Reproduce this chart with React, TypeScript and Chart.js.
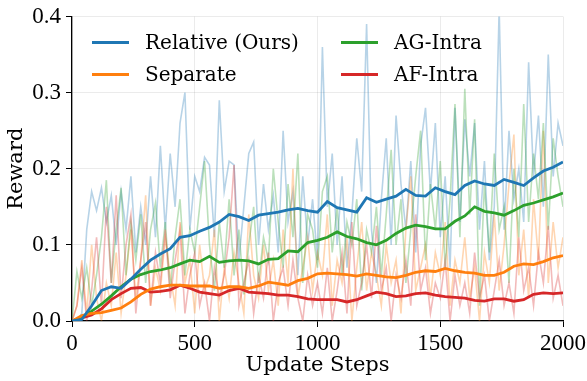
import React, { useEffect, useRef } from "react";
import { Chart, registerables } from "chart.js";

Chart.register(...registerables);

const STEP_RAW = 20;
const STEP_SMOOTH = 40;

const seriesLabels = ["Relative (Ours)", "Separate", "AG-Intra", "AF-Intra"];
const seriesColors = ["#1f77b4", "#ff7f0e", "#2ca02c", "#d62728"];
const xTicks = [0, 500, 1000, 1500, 2000];
const yTicks = [0, 0.1, 0.2, 0.3, 0.4];

// raw (unsmoothed) rewards, one value every 20 steps from 0 to 2000
const relativeRaw = [
  0, 0, 0.01, 0.12, 0.17, 0.145, 0.175, 0.13, 0.165, 0.10,
  0.17, 0.12, 0.19, 0.09, 0.15, 0.10, 0.19, 0.11, 0.23, 0.12,
  0.22, 0.15, 0.26, 0.30, 0.12, 0.19, 0.17, 0.215, 0.205, 0.11,
  0.29, 0.17, 0.21, 0.205, 0.08, 0.15, 0.22, 0.235, 0.10, 0.18,
  0.12, 0.165, 0.09, 0.25, 0.13, 0.17, 0.06, 0.19, 0.10, 0.16,
  0.08, 0.36, 0.15, 0.22, 0.10, 0.19, 0.07, 0.14, 0.24, 0.17,
  0.39, 0.12, 0.05, 0.16, 0.24, 0.10, 0.27, 0.18, 0.12, 0.21,
  0.09, 0.23, 0.28, 0.17, 0.26, 0.11, 0.19, 0.07, 0.28, 0.13,
  0.265, 0.19, 0.26, 0.12, 0.21, 0.08, 0.15, 0.41, 0.12, 0.25,
  0.16, 0.20, 0.13, 0.34, 0.19, 0.27, 0.15, 0.35, 0.19, 0.26,
  0.23,
];
const separateRaw = [
  0, 0.02, 0.08, 0.01, 0.10, 0.03, 0.00, 0.05, 0.02, 0.09,
  0.01, 0.06, 0.12, 0.03, 0.08, 0.165, 0.02, 0.07, 0.04, 0.11,
  0.06, 0.02, 0.13, 0.05, 0.08, 0.01, 0.10, 0.04, 0.06, 0.12,
  0.00, 0.07, 0.03, 0.09, 0.05, 0.01, 0.14, 0.06, 0.03, 0.10,
  0.04, 0.08, 0.02, 0.12, 0.05, 0.20, 0.03, 0.07, 0.11, 0.04,
  0.09, 0.06, 0.14, 0.02, 0.08, 0.05, 0.11, 0.00, 0.07, 0.13,
  0.04, 0.09, 0.06, 0.02, 0.10, 0.05, 0.08, 0.01, 0.12, 0.19,
  0.04, 0.07, 0.10, 0.03, 0.09, 0.06, 0.13, 0.02, 0.08, 0.05,
  0.11, 0.03, 0.07, 0.00, 0.09, 0.05, 0.14, 0.04, 0.10, 0.18,
  0.245, 0.06, 0.12, 0.03, 0.16, 0.08, 0.25, 0.05, 0.13, 0.07,
  0.11,
];
const agIntraRaw = [
  0, 0.065, 0.03, 0.07, 0.02, 0.06, 0.11, 0.185, 0.05, 0.12,
  0.175, 0.06, 0.13, 0.08, 0.14, 0.05, 0.12, 0.155, 0.07, 0.13,
  0.04, 0.11, 0.16, 0.06, 0.12, 0.09, 0.15, 0.21, 0.10, 0.04,
  0.13, 0.07, 0.16, 0.06, 0.12, 0.035, 0.10, 0.15, 0.05, 0.11,
  0.08, 0.20, 0.13, 0.07, 0.18, 0.11, 0.22, 0.05, 0.14, 0.12,
  0.07, 0.17, 0.19, 0.09, 0.15, 0.06, 0.13, 0.10, 0.16, 0.04,
  0.12, 0.09, 0.15, 0.06, 0.14, 0.225, 0.10, 0.16, 0.05, 0.12,
  0.19, 0.25, 0.08, 0.18, 0.12, 0.21, 0.07, 0.16, 0.285, 0.11,
  0.305, 0.14, 0.265, 0.02, 0.18, 0.09, 0.22, 0.12, 0.15, 0.05,
  0.20, 0.11, 0.285, 0.13, 0.22, 0.16, 0.26, 0.12, 0.24, 0.19,
  0.15,
];
const afIntraRaw = [
  0, 0.02, 0.07, 0.00, 0.04, 0.11, 0.02, 0.15, 0.05, 0.165,
  0.03, 0.10, 0.14, 0.01, 0.08, 0.13, 0.02, 0.09, 0.05, 0.12,
  0.03, 0.08, 0.12, 0.01, 0.06, 0.09, 0.02, 0.05, 0.00, 0.07,
  0.03, 0.06, 0.11, 0.205, 0.02, 0.05, 0.08, 0.01, 0.06, 0.03,
  0.09, 0.00, 0.05, 0.07, 0.02, 0.08, 0.03, 0.00, 0.06, 0.02,
  0.05, 0.01, 0.07, 0.00, 0.04, 0.09, 0.01, 0.13, 0.02, 0.05,
  0.10, 0.03, 0.125, 0.04, 0.07, 0.00, 0.06, 0.03, 0.08, 0.02,
  0.14, 0.04, 0.07, 0.01, 0.05, 0.03, 0.08, 0.00, 0.06, 0.02,
  0.05, 0.01, 0.09, 0.03, 0.06, 0.00, 0.04, 0.08, 0.02, 0.05,
  0.01, 0.11, 0.04, 0.07, 0.02, 0.09, 0.05, 0.125, 0.03, 0.06,
  0.02,
];

// smoothed rewards, one value every 40 steps from 0 to 2000
const relativeSmooth = [
  0, 0.002, 0.020, 0.040, 0.045, 0.043, 0.055, 0.068, 0.080, 0.088,
  0.095, 0.110, 0.112, 0.118, 0.123, 0.130, 0.140, 0.137, 0.132, 0.139,
  0.141, 0.143, 0.146, 0.148, 0.145, 0.143, 0.157, 0.149, 0.146, 0.143,
  0.162, 0.156, 0.160, 0.164, 0.173, 0.165, 0.164, 0.175, 0.170, 0.166,
  0.178, 0.184, 0.180, 0.178, 0.186, 0.182, 0.178, 0.188, 0.197, 0.202,
  0.209,
];
const separateSmooth = [
  0, 0.007, 0.010, 0.011, 0.014, 0.017, 0.025, 0.035, 0.042, 0.045,
  0.047, 0.047, 0.046, 0.046, 0.046, 0.043, 0.045, 0.045, 0.043, 0.046,
  0.051, 0.049, 0.047, 0.053, 0.056, 0.062, 0.063, 0.062, 0.061, 0.059,
  0.062, 0.060, 0.058, 0.057, 0.060, 0.064, 0.066, 0.065, 0.069, 0.066,
  0.064, 0.063, 0.060, 0.060, 0.064, 0.072, 0.075, 0.074, 0.078, 0.083,
  0.086,
];
const agIntraSmooth = [
  0, 0.005, 0.013, 0.022, 0.033, 0.045, 0.055, 0.061, 0.065, 0.067,
  0.070, 0.075, 0.080, 0.078, 0.085, 0.077, 0.079, 0.080, 0.079, 0.075,
  0.081, 0.082, 0.092, 0.091, 0.103, 0.106, 0.110, 0.117, 0.111, 0.108,
  0.103, 0.100, 0.106, 0.115, 0.122, 0.126, 0.124, 0.121, 0.121, 0.131,
  0.138, 0.150, 0.144, 0.142, 0.139, 0.145, 0.152, 0.155, 0.159, 0.163,
  0.168,
];
const afIntraSmooth = [
  0, 0.004, 0.008, 0.016, 0.028, 0.036, 0.043, 0.044, 0.038, 0.039,
  0.041, 0.047, 0.043, 0.038, 0.036, 0.034, 0.040, 0.043, 0.038, 0.037,
  0.036, 0.034, 0.034, 0.032, 0.029, 0.028, 0.028, 0.028, 0.025, 0.028,
  0.033, 0.038, 0.036, 0.032, 0.033, 0.036, 0.037, 0.034, 0.032, 0.031,
  0.030, 0.027, 0.026, 0.029, 0.029, 0.026, 0.028, 0.035, 0.037, 0.036,
  0.037,
];

const rawSeries = [relativeRaw, separateRaw, agIntraRaw, afIntraRaw];
const smoothSeries = [relativeSmooth, separateSmooth, agIntraSmooth, afIntraSmooth];

const TEXT_FONT = "'DejaVu Serif', serif";
const TICK_FONT = "'Liberation Serif', serif";

function toPoints(values: number[], step: number) {
  return values.map((v, i) => ({ x: i * step, y: v }));
}

function hexToRgba(hex: string, a: number) {
  const r = parseInt(hex.slice(1, 3), 16);
  const g = parseInt(hex.slice(3, 5), 16);
  const b = parseInt(hex.slice(5, 7), 16);
  return `rgba(${r},${g},${b},${a})`;
}

const legendPlugin = {
  id: "insideLegend",
  afterDatasetsDraw(chart: any) {
    const { ctx, chartArea } = chart;
    ctx.save();
    ctx.font = `20px ${TEXT_FONT}`;
    ctx.textBaseline = "middle";
    ctx.fillStyle = "#000";
    const colX = [chartArea.left + 20, chartArea.left + 269];
    const rowY = [chartArea.top + 26, chartArea.top + 58];
    for (let k = 0; k < 4; k++) {
      const col = k < 2 ? 0 : 1;
      const row = k % 2;
      const x = colX[col];
      const y = rowY[row];
      ctx.strokeStyle = seriesColors[k];
      ctx.lineWidth = 3;
      ctx.beginPath();
      ctx.moveTo(x, y);
      ctx.lineTo(x + 37, y);
      ctx.stroke();
      ctx.fillText(seriesLabels[k], x + 53, y + 1);
    }
    ctx.restore();
  },
};

export default function App() {
  const canvasRef = useRef<HTMLCanvasElement | null>(null);

  useEffect(() => {
    document.body.style.margin = "0";
    const canvas = canvasRef.current!;
    const datasets: any[] = [];
    rawSeries.forEach((vals, i) => {
      datasets.push({
        label: seriesLabels[i] + " raw",
        data: toPoints(vals, STEP_RAW),
        borderColor: hexToRgba(seriesColors[i], 0.32),
        borderWidth: 1.6,
        pointRadius: 0,
        tension: 0,
        order: 2 + (3 - i),
      });
    });
    smoothSeries.forEach((vals, i) => {
      datasets.push({
        label: seriesLabels[i],
        data: toPoints(vals, STEP_SMOOTH),
        borderColor: seriesColors[i],
        borderWidth: 2.8,
        pointRadius: 0,
        tension: 0,
        order: 0,
      });
    });

    const tickFont = { family: TICK_FONT, size: 23, lineHeight: 1.0 };
    const titleFont = { family: TEXT_FONT, size: 21 };
    const chart = new Chart(canvas, {
      type: "line",
      data: { datasets },
      options: {
        responsive: false,
        animation: false,
        events: [],
        layout: { padding: { left: 4, top: 15, right: 24, bottom: 0 } },
        plugins: { legend: { display: false }, tooltip: { enabled: false } },
        scales: {
          x: {
            type: "linear",
            min: 0,
            max: 2000,
            afterBuildTicks: (scale: any) => {
              scale.ticks = xTicks.map((v) => ({ value: v }));
            },
            afterFit: (scale: any) => {
              scale.height = 60;
              scale.paddingRight = 0;
              scale.paddingLeft = 0;
            },
            ticks: {
              font: tickFont,
              color: "#000",
              padding: 5,
              maxRotation: 0,
              callback: (v: any) => String(v),
            },
            grid: {
              color: "rgba(0,0,0,0.08)",
              tickColor: "#000",
              tickLength: 6,
              lineWidth: 1,
            },
            border: { display: true, color: "#000", width: 1.3 },
            title: {
              display: true,
              text: "Update Steps",
              font: titleFont,
              color: "#000",
              padding: { top: 0, bottom: 3 },
            },
          },
          y: {
            type: "linear",
            min: 0,
            max: 0.4,
            afterBuildTicks: (scale: any) => {
              scale.ticks = yTicks.map((v) => ({ value: v }));
            },
            afterFit: (scale: any) => {
              scale.width = 68;
            },
            ticks: {
              font: tickFont,
              color: "#000",
              padding: 5,
              callback: (v: any) => Number(v).toFixed(1),
            },
            grid: {
              color: "rgba(0,0,0,0.08)",
              tickColor: "#000",
              tickLength: 6,
              lineWidth: 1,
            },
            border: { display: true, color: "#000", width: 1.3 },
            title: {
              display: true,
              text: "Reward",
              font: titleFont,
              color: "#000",
              padding: { top: 0, bottom: 2 },
            },
          },
        },
      },
      plugins: [legendPlugin],
    } as any);
    return () => chart.destroy();
  }, []);

  return (
    <div style={{ position: "absolute", left: 0, top: 0, width: 587, height: 381 }}>
      <canvas ref={canvasRef} width={587} height={381} />
    </div>
  );
}
